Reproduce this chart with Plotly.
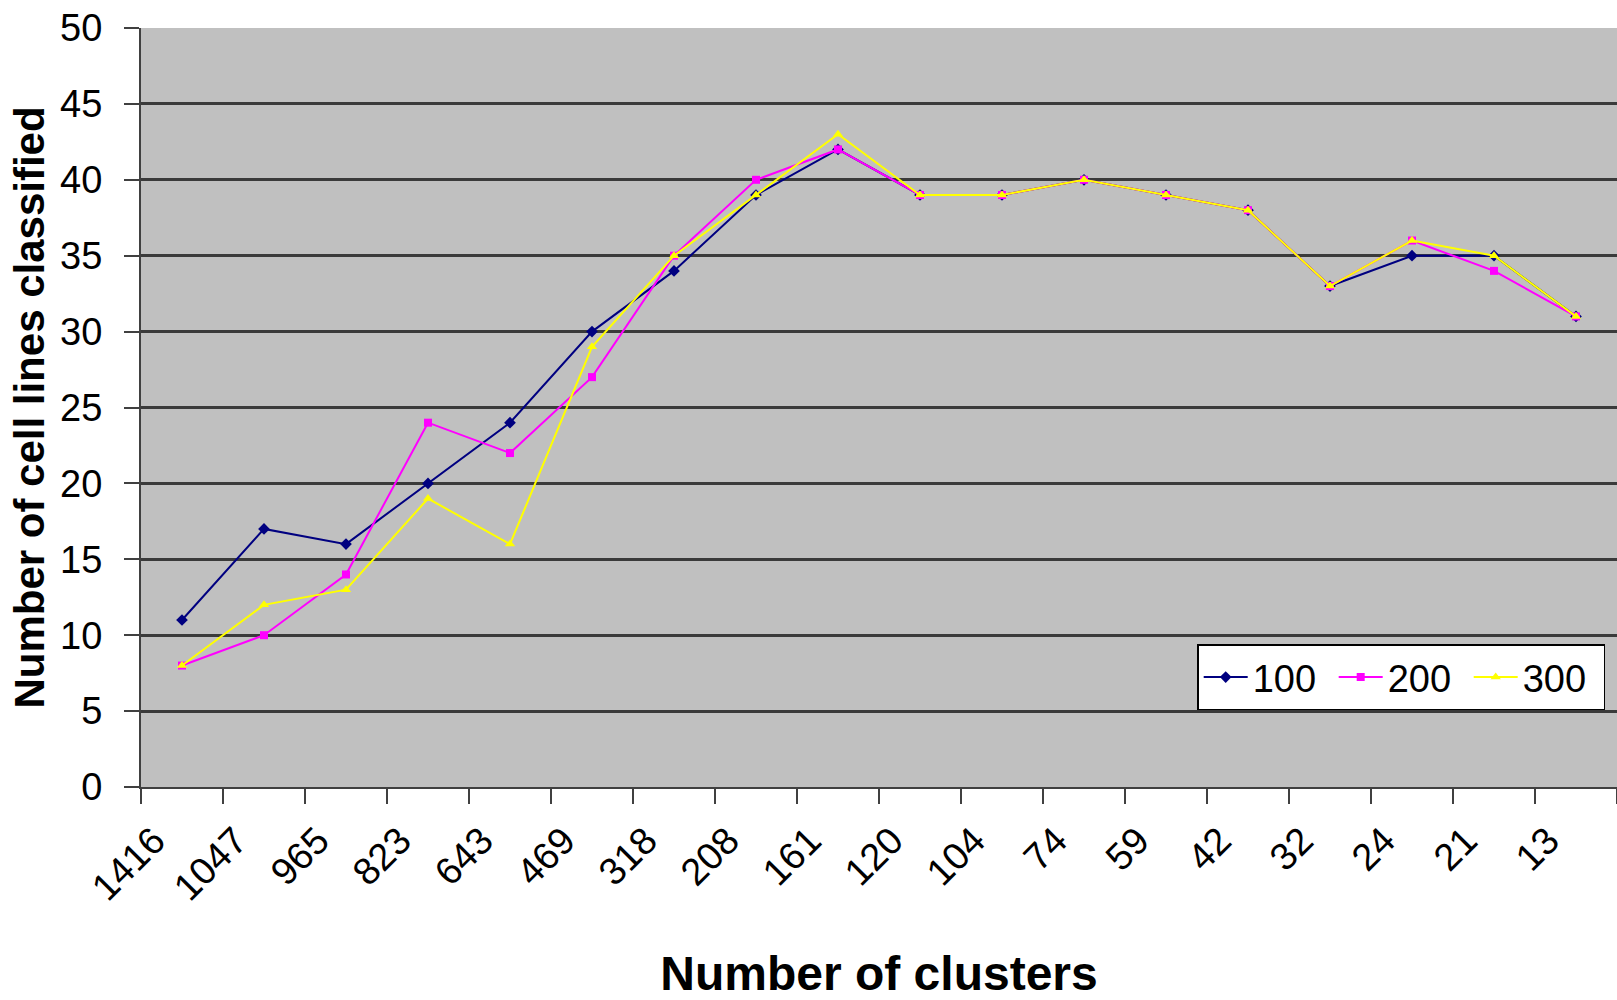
import plotly.graph_objects as go

categories = ["1416", "1047", "965", "823", "643", "469", "318", "208", "161",
              "120", "104", "74", "59", "42", "32", "24", "21", "13"]
series_100 = [11, 17, 16, 20, 24, 30, 34, 39, 42, 39, 39, 40, 39, 38, 33, 35, 35, 31]
series_200 = [8, 10, 14, 24, 22, 27, 35, 40, 42, 39, 39, 40, 39, 38, 33, 36, 34, 31]
series_300 = [8, 12, 13, 19, 16, 29, 35, 39, 43, 39, 39, 40, 39, 38, 33, 36, 35, 31]
y_ticks = [0, 5, 10, 15, 20, 25, 30, 35, 40, 45, 50]

FONT = "Liberation Sans, Arial, sans-serif"

fig = go.Figure()
fig.add_trace(go.Scatter(x=categories, y=series_100, name="100", mode="lines+markers",
                         line=dict(color="#000080", width=2),
                         marker=dict(symbol="diamond", size=9, color="#000080")))
fig.add_trace(go.Scatter(x=categories, y=series_200, name="200", mode="lines+markers",
                         line=dict(color="#ff00ff", width=2),
                         marker=dict(symbol="square", size=8, color="#ff00ff")))
fig.add_trace(go.Scatter(x=categories, y=series_300, name="300", mode="lines+markers",
                         line=dict(color="#ffff00", width=2),
                         marker=dict(symbol="triangle-up", size=9, color="#ffff00")))

fig.update_layout(
    width=1617, height=1000,
    margin=dict(l=141, r=0, t=28, b=213),
    paper_bgcolor="white",
    plot_bgcolor="#c0c0c0",
    font=dict(family=FONT, color="black"),
    showlegend=True,
    legend=dict(orientation="h", x=0.992, xanchor="right", y=0.101, yanchor="bottom",
                bgcolor="white", bordercolor="black", borderwidth=1.5,
                font=dict(size=38, family=FONT), itemwidth=44,
                entrywidth=76, tracegroupgap=0),
)

fig.update_xaxes(
    type="category",
    categoryorder="array", categoryarray=categories,
    range=[-0.5, len(categories) - 0.5],
    showgrid=False, zeroline=False,
    showline=True, linecolor="#404040", linewidth=2,
    ticks="outside", tickson="boundaries", ticklen=15, tickwidth=2, tickcolor="#404040",
    tickangle=-45, tickfont=dict(size=38, family=FONT),
    ticklabelshift=-28, ticklabelstandoff=14,
    automargin=False,
    title=dict(text="<b>Number of clusters</b>", font=dict(size=48, family=FONT), standoff=64),
)
fig.update_yaxes(
    range=[0, 50], tickvals=y_ticks,
    showgrid=True, gridcolor="#3a3a3a", gridwidth=2.5,
    zeroline=False,
    showline=True, linecolor="#404040", linewidth=2,
    ticks="outside", ticklen=15, tickwidth=2, tickcolor="#404040",
    tickfont=dict(size=38, family=FONT), ticklabelstandoff=14,
    automargin=False,
    title=dict(text="<b>Number of cell lines classified</b>", font=dict(size=42, family=FONT), standoff=2),
)

fig.write_html("out.html")
